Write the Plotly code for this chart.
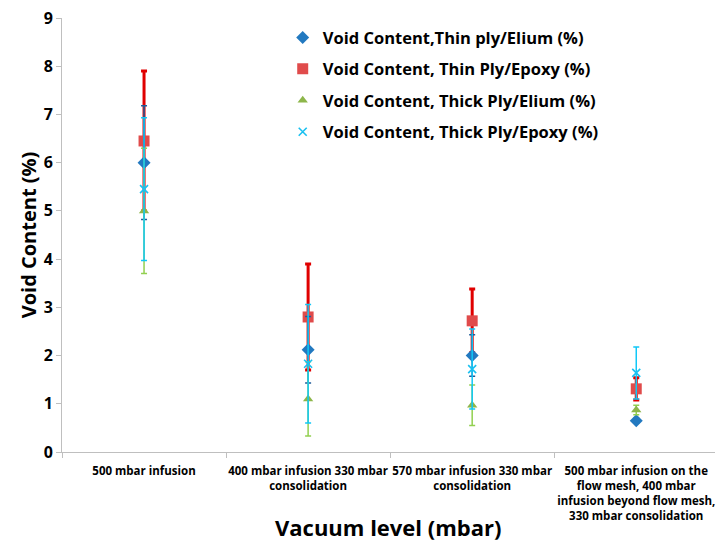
import plotly.graph_objects as go

categories = [
    "500 mbar infusion",
    "400 mbar infusion 330 mbar<br>consolidation",
    "570 mbar infusion 330 mbar<br>consolidation",
    "500 mbar infusion on the<br>flow mesh, 400 mbar<br>infusion beyond flow mesh,<br>330 mbar consolidation",
]

thin_elium = [6.0, 2.12, 2.0, 0.65]
thin_elium_err = [1.18, 0.69, 0.43, 0.05]
thin_epoxy = [6.45, 2.8, 2.72, 1.31]
thin_epoxy_err = [1.45, 1.1, 0.66, 0.23]
thick_elium = [5.0, 1.1, 0.97, 0.87]
thick_elium_err = [1.3, 0.77, 0.42, 0.1]
thick_epoxy = [5.45, 1.83, 1.72, 1.64]
thick_epoxy_err = [1.48, 1.23, 0.83, 0.54]

FONT = "'Open Sans', sans-serif"

fig = go.Figure()

series = [
    ("Void Content, Thin Ply/Epoxy (%)", thin_epoxy, thin_epoxy_err, "square", 11, "#E04B4B", "#E00000", 3, 2),
    ("Void Content,Thin ply/Elium (%)", thin_elium, thin_elium_err, "diamond", 10, "#2279C0", "#1F5C99", 1.5, 1),
    ("Void Content, Thick Ply/Elium (%)", thick_elium, thick_elium_err, "triangle-up", 9, "#8DB64A", "#92D050", 1.5, 3),
    ("Void Content, Thick Ply/Epoxy (%)", thick_epoxy, thick_epoxy_err, "x-thin-open", 8, "#19C0F0", "#10C8F8", 1.5, 4),
]

for name, vals, errs, sym, size, mcol, ecol, eth, rank in series:
    marker = dict(symbol=sym, size=size, color=mcol)
    if sym == "x-thin-open":
        marker["line"] = dict(color=mcol, width=1.6)
    fig.add_trace(go.Scatter(
        x=categories, y=vals, mode="markers", name=name,
        marker=marker,
        error_y=dict(type="data", array=errs, visible=True, color=ecol,
                     thickness=eth, width=3),
        legendrank=rank, legendgroup=name,
    ))

fig.update_layout(
    width=715, height=542,
    margin=dict(l=62, r=0, t=18, b=90, autoexpand=False),
    paper_bgcolor="white", plot_bgcolor="white",
    font=dict(family=FONT, color="black"),
    showlegend=True,
    legend=dict(x=0.338, y=0.995, xanchor="left", yanchor="top",
                bgcolor="rgba(0,0,0,0)", tracegroupgap=7,
                font=dict(size=16.5, family=FONT, color="black", weight="bold")),
    xaxis=dict(type="category", categoryorder="array", categoryarray=categories,
               range=[-0.5, 3.48], showgrid=False, showline=True,
               linecolor="#BFBFBF", linewidth=1, ticks="outside",
               tickson="boundaries", ticklen=5, tickcolor="#BFBFBF",
               ticklabelstandoff=8, tickangle=0, automargin=False,
               tickfont=dict(size=11.5, family=FONT, color="black", weight="bold"),
               zeroline=False),
    yaxis=dict(range=[0, 9], dtick=1, showgrid=False, showline=True,
               linecolor="#BFBFBF", linewidth=1, ticks="outside", ticklen=5,
               tickcolor="#BFBFBF", zeroline=False, automargin=False,
               tickfont=dict(size=16, family=FONT, color="black", weight="bold"),
               title=dict(text="Void Content (%)", standoff=1,
                          font=dict(size=20, family=FONT, color="black", weight="bold"))),
    annotations=[dict(text="Vacuum level (mbar)", xref="paper", yref="paper",
                      x=0.5, y=0, yshift=-75, xanchor="center", yanchor="middle",
                      showarrow=False,
                      font=dict(size=22, family=FONT, color="black", weight="bold"))],
)

fig.write_html("out.html")
